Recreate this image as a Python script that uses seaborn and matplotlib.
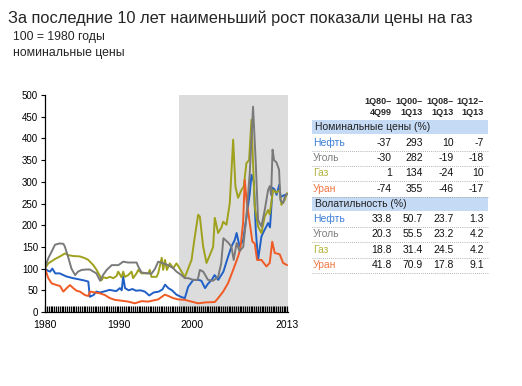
import matplotlib
matplotlib.use("Agg")
import matplotlib.pyplot as plt
import seaborn as sns
import pandas as pd
from matplotlib.ticker import MultipleLocator
from matplotlib.patches import Rectangle
from matplotlib.lines import Line2D

# Данные (индекс, 100 = 1980)
oil_years = [1980.0, 1980.4, 1980.7, 1981.0, 1981.4, 1982.0, 1982.9, 1983.8, 1984.7, 1985.5,
             1985.9, 1986.1, 1986.6, 1987.0, 1987.5, 1988.2, 1988.8, 1989.7, 1990.2, 1990.45,
             1990.65, 1990.9, 1991.4, 1991.9, 1992.4, 1993.0, 1993.6, 1994.2, 1994.8, 1995.5,
             1996.0, 1996.35, 1996.8, 1997.3, 1997.9, 1998.5, 1999.05, 1999.5, 2000.2, 2000.9,
             2001.3, 2001.8, 2002.2, 2002.7, 2003.1, 2003.6, 2004.3, 2004.95, 2005.4, 2005.85,
             2006.1, 2006.5, 2007.0, 2007.45, 2007.9, 2008.12, 2008.44, 2008.71, 2009.02, 2009.48,
             2009.93, 2010.4, 2010.65, 2011.0, 2011.25, 2011.55, 2011.9, 2012.1, 2012.45, 2013.0]
oil = [100, 95, 93, 100, 89, 89, 82, 78, 75, 72,
       70, 35, 39, 47, 45, 48, 51, 48, 55, 50,
       82, 55, 50, 53, 49, 50, 47, 38, 45, 47,
       52, 63, 55, 50, 40, 35, 32, 58, 74, 74,
       72, 55, 65, 74, 85, 74, 93, 128, 151, 166,
       182, 151, 166, 220, 274, 316, 300, 189, 120, 174,
       190, 205, 195, 286, 283, 270, 293, 265, 268, 272]

coal_years = [1980.0, 1980.45, 1980.9, 1981.36, 1982.0, 1982.5, 1982.7, 1983.2, 1983.6, 1984.1,
              1984.5, 1985.0, 1985.7, 1986.1, 1986.6, 1987.0, 1987.5, 1987.9, 1988.4, 1989.1,
              1989.6, 1990.0, 1990.65, 1991.3, 1992.47, 1992.7, 1993.15, 1994.05, 1994.5, 1995.0,
              1995.42, 1996.1, 1996.78, 1997.46, 1997.91, 1998.59, 1999.05, 1999.5, 2000.2, 2000.8,
              2001.1, 2001.55, 2002.2, 2002.9, 2003.58, 2004.0, 2004.3, 2004.95, 2005.4, 2005.7,
              2006.1, 2006.5, 2007.0, 2007.44, 2007.89, 2008.34, 2008.71, 2009.02, 2009.48, 2009.93,
              2010.39, 2010.61, 2010.8, 2011.0, 2011.2, 2011.52, 2011.88, 2012.06, 2012.43, 2012.65,
              2012.97]
coal = [102, 124, 139, 155, 158, 157, 151, 124, 100, 85,
        93, 97, 98, 98, 93, 89, 72, 85, 97, 108,
        108, 108, 116, 114, 114, 105, 91, 89, 88, 100,
        116, 112, 108, 101, 93, 85, 78, 78, 74, 74,
        97, 93, 74, 72, 81, 112, 170, 160, 150, 120,
        159, 140, 150, 220, 320, 473, 343, 212, 197, 235,
        281, 290, 270, 374, 350, 345, 328, 258, 251, 265,
        272]

gas_years = [1980.0, 1980.45, 1981.36, 1982.04, 1982.72, 1983.17, 1983.85, 1984.76, 1985.44, 1985.9,
             1986.58, 1987.03, 1987.48, 1987.7, 1987.94, 1988.39, 1988.84, 1989.3, 1989.75, 1989.97,
             1990.43, 1990.65, 1990.88, 1991.33, 1991.79, 1992.0, 1992.47, 1992.7, 1993.15, 1994.05,
             1994.28, 1994.5, 1995.19, 1995.42, 1995.9, 1996.1, 1996.35, 1996.6, 1997.0, 1997.46,
             1997.91, 1998.36, 1999.05, 1999.96, 2000.41, 2000.86, 2001.09, 2001.54, 2002.0, 2002.45,
             2002.9, 2003.13, 2003.58, 2004.04, 2004.27, 2004.72, 2005.17, 2005.63, 2005.94, 2006.3,
             2006.76, 2007.07, 2007.44, 2007.8, 2008.12, 2008.34, 2008.57, 2009.02, 2009.48, 2009.93,
             2010.39, 2010.61, 2011.07, 2011.52, 2011.97, 2012.2, 2012.65, 2012.97]
gas = [100, 112, 122, 128, 135, 131, 129, 128, 124, 120,
       108, 97, 83, 73, 80, 78, 81, 78, 83, 93,
       80, 93, 81, 85, 93, 78, 89, 97, 89, 89,
       97, 81, 81, 89, 125, 97, 120, 97, 112, 101,
       112, 100, 80, 120, 174, 224, 220, 151, 113, 131,
       150, 217, 182, 195, 208, 201, 251, 397, 289, 263,
       281, 289, 343, 350, 443, 343, 243, 197, 182, 220,
       235, 225, 281, 275, 281, 247, 258, 274]

uran_years = [1980.0, 1980.45, 1980.9, 1981.59, 1982.04, 1982.5, 1982.95, 1983.4, 1983.85, 1984.3,
              1984.76, 1985.44, 1985.9, 1986.12, 1986.8, 1987.48, 1988.16, 1988.84, 1989.52, 1990.43,
              1991.33, 1992.24, 1993.15, 1994.05, 1995.42, 1996.32, 1996.78, 1997.46, 1998.14, 1999.04,
              1999.95, 2000.86, 2001.77, 2003.13, 2003.58, 2004.27, 2004.95, 2005.63, 2006.3, 2006.6,
              2006.98, 2007.21, 2007.44, 2007.89, 2008.25, 2008.57, 2008.89, 2009.48, 2010.16, 2010.61,
              2010.95, 2011.29, 2011.97, 2012.43, 2012.97]
uran = [100, 78, 66, 62, 60, 47, 55, 62, 55, 49,
        47, 39, 37, 47, 45, 43, 39, 32, 28, 26,
        24, 20, 25, 24, 29, 40, 37, 32, 29, 28,
        24, 20, 22, 23, 32, 47, 67, 97, 128, 145,
        205, 304, 260, 205, 162, 158, 120, 120, 105, 113,
        162, 136, 133, 113, 108]

# Таблица
periods = ["1Q80–\n4Q99", "1Q00–\n1Q13", "1Q08–\n1Q13", "1Q12–\n1Q13"]
commodities = ["Нефть", "Уголь", "Газ", "Уран"]
nominal = [["-37", "293", "10", "-7"],
           ["-30", "282", "-19", "-18"],
           ["1", "134", "-24", "10"],
           ["-74", "355", "-46", "-17"]]
volatility = [["33.8", "50.7", "23.7", "1.3"],
              ["20.3", "55.5", "23.2", "4.2"],
              ["18.8", "31.4", "24.5", "4.2"],
              ["41.8", "70.9", "17.8", "9.1"]]

line_colors = {"Нефть": "#1f5fc6", "Уголь": "#7a7a7a", "Газ": "#9fa11c", "Уран": "#f05a24"}
label_colors = {"Нефть": "#3d7fd8", "Уголь": "#7f7f7f", "Газ": "#b2b43c", "Уран": "#f07848"}

sns.set_style("ticks")
plt.rcParams["font.family"] = ["Liberation Sans", "DejaVu Sans"]

W, H = 522, 386
fig = plt.figure(figsize=(W / 100, H / 100), dpi=100)


def fx(x):
    return x / W


def fy(y):
    return 1 - y / H


ax = fig.add_axes([fx(45), fy(312), fx(288 - 45), (312 - 95) / H])
ax.axvspan(1998.25, 2013.1, color="#dcdcdc", lw=0, zorder=0)

series = [(oil_years, oil, "Нефть"), (gas_years, gas, "Газ"),
          (uran_years, uran, "Уран"), (coal_years, coal, "Уголь")]
for xs, ys, name in series:
    df = pd.DataFrame({"year": xs, "value": ys})
    sns.lineplot(data=df, x="year", y="value", ax=ax, color=line_colors[name], lw=1.4)

ax.set_xlim(1980, 2013.1)
ax.set_ylim(0, 500)
ax.set_xlabel("")
ax.set_ylabel("")
ax.set_yticks(range(0, 501, 50))
ax.set_xticks([1980, 1990, 2000, 2013])
ax.xaxis.set_minor_locator(MultipleLocator(0.25))
ax.tick_params(axis="y", direction="out", length=3, width=0.8, labelsize=7, pad=2,
               left=True, color="black", labelcolor="black")
ax.tick_params(axis="x", which="both", direction="in", length=4.5, width=0.9,
               bottom=True, color="black")
ax.tick_params(axis="x", which="major", labelsize=7.5, pad=6, labelcolor="black")
for s in ["top", "right"]:
    ax.spines[s].set_visible(False)
for s in ["left", "bottom"]:
    ax.spines[s].set_color("black")
    ax.spines[s].set_linewidth(0.9)

# Заголовки
fig.text(fx(8), fy(18), "За последние 10 лет наименьший рост показали цены на газ",
         fontsize=11.8, va="center", ha="left")
fig.text(fx(13), fy(37), "100 = 1980 годы", fontsize=8.8, va="center", ha="left")
fig.text(fx(13), fy(53), "номинальные цены", fontsize=8.8, va="center", ha="left")

# Таблица справа
col_right = [392, 423, 454, 484]
for cx, p in zip(col_right, periods):
    fig.text(fx(cx), fy(107), p, fontsize=6.5, fontweight="bold", ha="right", va="center",
             linespacing=1.15)

band_color = "#c5daf4"
sections = [("Номинальные цены (%)", 120, nominal, [143, 158, 173, 189]),
            ("Волатильность (%)", 197, volatility, [219, 234, 250, 265])]
for title, band_top, values, row_y in sections:
    fig.patches.append(Rectangle((fx(312), fy(band_top + 14)), fx(488 - 312), 14 / H,
                                 transform=fig.transFigure, color=band_color, lw=0))
    fig.text(fx(315), fy(band_top + 7), title, fontsize=7.5, ha="left", va="center",
             color="#222222")
    for name, row, ry in zip(commodities, values, row_y):
        fig.text(fx(313), fy(ry), name, fontsize=7.5, ha="left", va="center",
                 color=label_colors[name])
        for cx, v in zip(col_right, row):
            fig.text(fx(cx), fy(ry), v, fontsize=7.5, ha="right", va="center", color="#111111")
        sep = fy(ry + 8)
        fig.add_artist(Line2D([fx(312), fx(488)], [sep, sep], transform=fig.transFigure,
                              color="#9a9a9a", lw=0.6, ls=(0, (1, 1.5))))

fig.savefig("out.png", dpi=100)
